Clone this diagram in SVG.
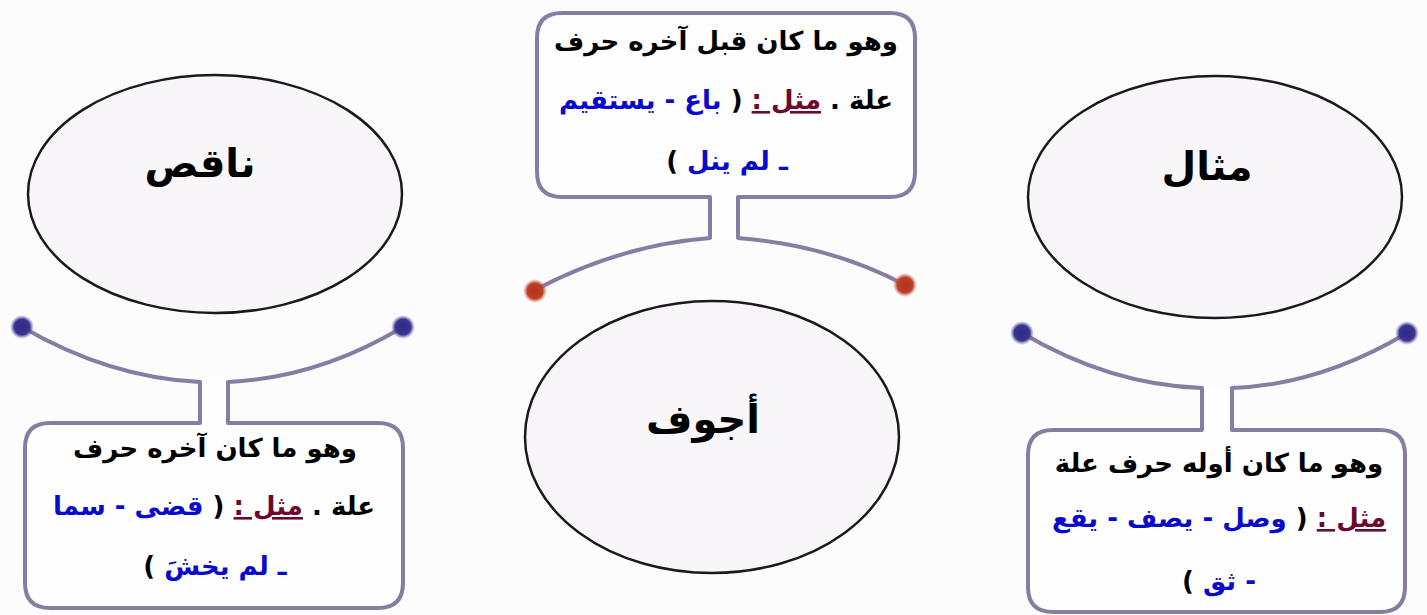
<svg xmlns="http://www.w3.org/2000/svg" width="1427" height="615" viewBox="0 0 1427 615">
<style>
.ell{fill:#f8f6f9;stroke:#1a1a1a;stroke-width:2.5}
.box{fill:#fefefe;stroke:#877da3;stroke-width:4;stroke-linejoin:round}
.arc{fill:none;stroke:#877da3;stroke-width:4;stroke-linecap:round}
.title{font-family:"DejaVu Sans","Noto Sans",sans-serif;font-weight:bold;font-size:40px;fill:#000;text-anchor:middle}
.t{font-family:"DejaVu Sans","Noto Sans",sans-serif;font-weight:bold;font-size:26px;fill:#000;text-anchor:middle}
.ex{fill:#6b0a2e;text-decoration:underline}
.bl{fill:#0a0acc}
</style>
<defs>
<radialGradient id="gb"><stop offset="0" stop-color="#2e2a86"/><stop offset="0.65" stop-color="#3a3490"/><stop offset="1" stop-color="#6a64b0" stop-opacity="0"/></radialGradient>
<radialGradient id="gr"><stop offset="0" stop-color="#b2331c"/><stop offset="0.65" stop-color="#bb3f26"/><stop offset="1" stop-color="#d07060" stop-opacity="0"/></radialGradient>
</defs>
<rect width="1427" height="615" fill="#fdfcfd"/>

<g id="connectors">
<path class="arc" d="M22,327 Q110,378 200,382"/>
<path class="arc" d="M228,382 Q318,378 403,327"/>
<path class="arc" d="M535,290 Q620,245 710,238"/>
<path class="arc" d="M738,238 Q830,245 905,285"/>
<path class="arc" d="M1022,333 Q1110,385 1202,388"/>
<path class="arc" d="M1232,388 Q1320,385 1407,333"/>
<circle cx="22" cy="327" r="12" fill="url(#gb)"/>
<circle cx="403" cy="327" r="12" fill="url(#gb)"/>
<circle cx="535" cy="291" r="12" fill="url(#gr)"/>
<circle cx="905" cy="285" r="12" fill="url(#gr)"/>
<circle cx="1022" cy="333" r="12" fill="url(#gb)"/>
<circle cx="1407" cy="333" r="12" fill="url(#gb)"/>
</g>

<g id="naqis">
<ellipse class="ell" cx="215" cy="194" rx="187" ry="119"/>
<text class="title" x="200" y="177">ناقص</text>
</g>

<g id="ajwaf">
<ellipse class="ell" cx="712" cy="437" rx="187" ry="136"/>
<text class="title" x="703" y="433">أجوف</text>
</g>

<g id="mithal">
<ellipse class="ell" cx="1215" cy="197" rx="187" ry="121"/>
<text class="title" x="1207" y="180">مثال</text>
</g>

<g id="naqis-def">
<path class="box" d="M200,382 V423 H50 Q25,423 25,448 V583 Q25,608 50,608 H378 Q403,608 403,583 V448 Q403,423 378,423 H228 V382"/>
<text class="t" x="215" y="457" direction="rtl">وهو ما كان آخره حرف</text>
<text class="t" x="214" y="515" direction="rtl">علة . <tspan class="ex">مثل :</tspan> ( <tspan class="bl">قضى - سما</tspan></text>
<text class="t" x="215" y="575" direction="rtl"><tspan class="bl">ـ لم يخشَ</tspan> )</text>
</g>

<g id="ajwaf-def">
<path class="box" d="M710,238 V197 H562 Q537,197 537,172 V38 Q537,13 562,13 H890 Q915,13 915,38 V172 Q915,197 890,197 H738 V238"/>
<text class="t" x="726" y="50" direction="rtl">وهو ما كان قبل آخره حرف</text>
<text class="t" x="726" y="109" direction="rtl">علة . <tspan class="ex">مثل :</tspan> ( <tspan class="bl">باع - يستقيم</tspan></text>
<text class="t" x="727" y="170" direction="rtl"><tspan class="bl">ـ لم ينل</tspan> )</text>
</g>

<g id="mithal-def">
<path class="box" d="M1202,388 V430 H1053 Q1028,430 1028,455 V587 Q1028,612 1053,612 H1380 Q1405,612 1405,587 V455 Q1405,430 1380,430 H1232 V388"/>
<text class="t" x="1219" y="472" direction="rtl">وهو ما كان أوله حرف علة</text>
<text class="t" x="1219" y="527" direction="rtl"><tspan class="ex">مثل :</tspan> ( <tspan class="bl">وصل - يصف - يقع</tspan></text>
<text class="t" x="1219" y="590" direction="rtl"><tspan class="bl">- ثق</tspan> )</text>
</g>
</svg>
